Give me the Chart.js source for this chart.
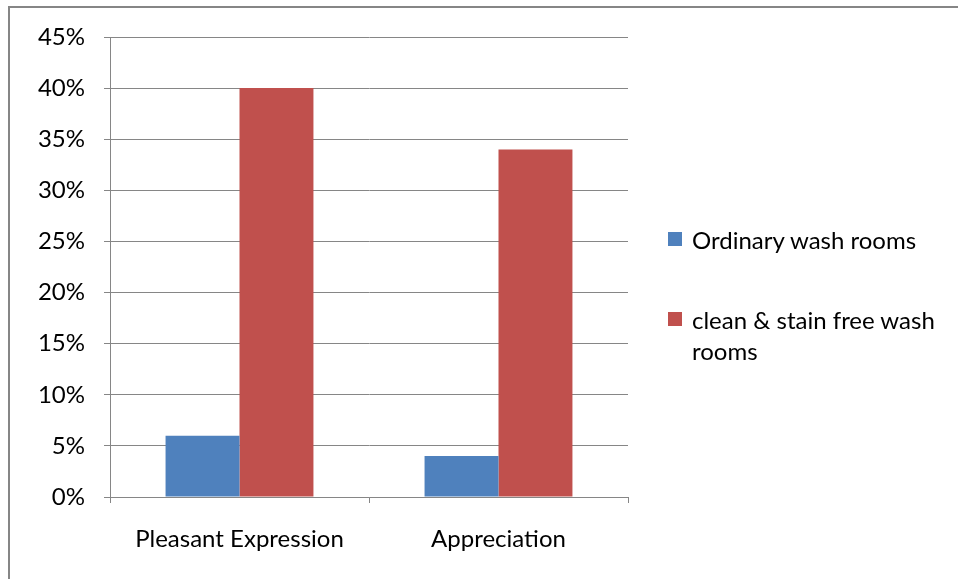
<!DOCTYPE html>
<html>
<head>
<meta charset="utf-8">
<script src="https://cdn.jsdelivr.net/npm/chart.js@4.4.0/dist/chart.umd.min.js"></script>
<style>
  html, body { margin: 0; padding: 0; background: #fff; }
  #wrap { position: relative; width: 958px; height: 579px; overflow: hidden; }
  #frame { position: absolute; left: 8px; top: 6px; width: 1000px; height: 700px;
           border-top: 2px solid #868686; border-left: 2px solid #868686; }
  #chart { position: absolute; left: 0; top: 0; }
  #legend { position: absolute; left: 668px; top: 224px; font-family: Lato, sans-serif;
            font-size: 24px; color: #000; }
  .item { position: relative; padding-left: 24px; line-height: 31px; width: 266px; }
  .item + .item { margin-top: 49px; }
  .box { position: absolute; left: 0; top: 8px; width: 14px; height: 14px; }
</style>
</head>
<body>
<div id="wrap">
  <div id="frame"></div>
  <canvas id="chart" width="958" height="579"></canvas>
  <div id="legend"></div>
</div>
<script>
// categories and series
var categories = ['Pleasant Expression', 'Appreciation'];
var ordinary = [0.06, 0.04];
var cleanFree = [0.40, 0.34];
var seriesNames = ['Ordinary wash rooms', 'clean & stain free wash rooms'];
var seriesColors = ['#4F81BD', '#C0504D'];

var font = { family: 'Lato, sans-serif', size: 24 };
var gridColor = '#868686';

var ctx = document.getElementById('chart').getContext('2d');
var chart = new Chart(ctx, {
  type: 'bar',
  data: {
    labels: categories,
    datasets: [{
        label: seriesNames[0],
        backgroundColor: seriesColors[0],
        data: ordinary
    },
    {
        label: seriesNames[1],
        backgroundColor: seriesColors[1],
        data: cleanFree
    }]
  },
  options: {
    responsive: false,
    animation: false,
    layout: { padding: { left: 10, right: 330, top: 37, bottom: 0 } },
    datasets: { bar: { categoryPercentage: 0.571, barPercentage: 1 } },
    plugins: { legend: { display: false }, tooltip: { enabled: false } },
    scales: {
      x: {
        grid: { offset: true, drawOnChartArea: false, color: gridColor, tickLength: 6 },
        border: { color: gridColor },
        ticks: { color: '#000', font: font, padding: 22 },
        afterFit: function (s) { s.height = 82; }
      },
      y: {
        min: 0,
        max: 0.45,
        grid: { color: gridColor, tickLength: 6 },
        border: { color: gridColor },
        ticks: {
          stepSize: 0.05,
          color: '#000',
          font: font,
          padding: 19,
          callback: function (v) { return Math.round(v * 100) + '%'; }
        },
        afterFit: function (s) { s.width = 100; }
      }
    }
  }
});

// legend to the right, label wraps like the original
var legend = document.getElementById('legend');
chart.data.datasets.forEach(function (ds) {
  var item = document.createElement('div');
  item.className = 'item';
  var box = document.createElement('span');
  box.className = 'box';
  box.style.background = ds.backgroundColor;
  item.appendChild(box);
  item.appendChild(document.createTextNode(ds.label));
  legend.appendChild(item);
});
</script>
</body>
</html>
